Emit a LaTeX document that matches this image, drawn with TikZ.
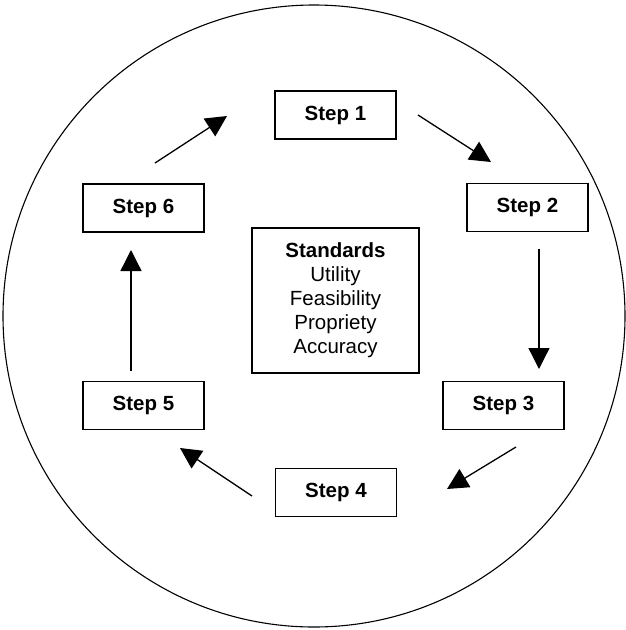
\documentclass[tikz,border=0pt]{standalone}
\usepackage{fontspec}
\setmainfont{Liberation Sans}
\usetikzlibrary{arrows.meta}
\begin{document}
\begin{tikzpicture}[x=1pt,y=-1pt,
  stepbox/.style={draw,line width=1.3pt,minimum width=121pt,minimum height=48pt,inner sep=0pt,font=\fontsize{20.5}{24}\selectfont\bfseries},
  flow/.style={line width=1.3pt,-{Triangle[width=21pt,length=21pt]}}]
\useasboundingbox (0,0) rectangle (626,630);
\node[draw,circle,line width=1.1pt,minimum size=622pt,inner sep=0pt] (ring) at (314,316) {};
\node[stepbox] (s1) at (335.5,115) {Step 1};
\node[stepbox] (s2) at (527.5,207.5) {Step 2};
\node[stepbox] (s3) at (503.5,405.5) {Step 3};
\node[stepbox] (s4) at (336,492.5) {Step 4};
\node[stepbox] (s5) at (143.5,405.5) {Step 5};
\node[stepbox] (s6) at (143.5,208) {Step 6};
\node[draw,line width=1.3pt,minimum width=167pt,minimum height=145pt,inner sep=0pt,align=center,font=\fontsize{20.5}{24}\selectfont] (std) at (335.5,300.5) {\textbf{Standards}\\Utility\\Feasibility\\Propriety\\Accuracy};
\coordinate (a1) at (418,115); \coordinate (b1) at (491,162);
\coordinate (a2) at (539,249); \coordinate (b2) at (539,369);
\coordinate (a3) at (516,447); \coordinate (b3) at (447,489);
\coordinate (a4) at (252,496); \coordinate (b4) at (180,448);
\coordinate (a5) at (131,371); \coordinate (b5) at (131,250);
\coordinate (a6) at (155,163); \coordinate (b6) at (227,116);
\draw[flow] (a1) -- (b1);
\draw[flow] (a2) -- (b2);
\draw[flow] (a3) -- (b3);
\draw[flow] (a4) -- (b4);
\draw[flow] (a5) -- (b5);
\draw[flow] (a6) -- (b6);
\end{tikzpicture}
\end{document}
